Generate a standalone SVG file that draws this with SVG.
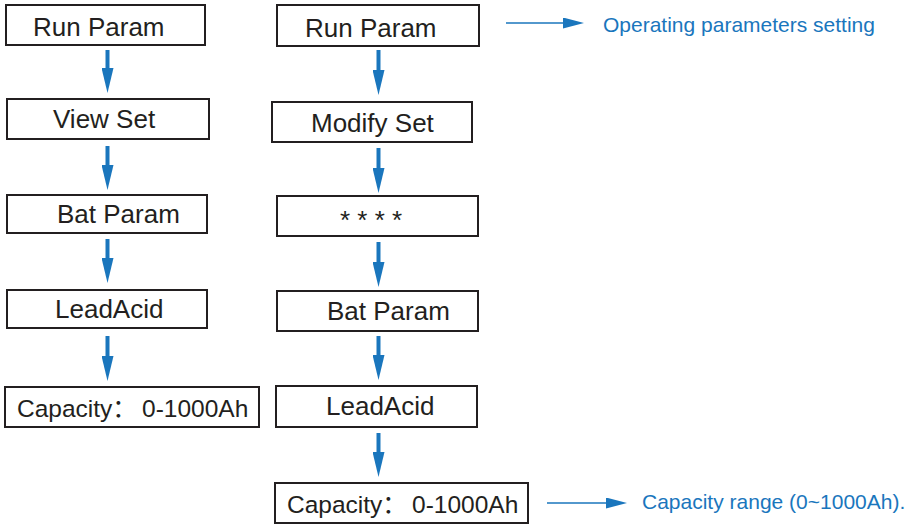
<svg xmlns="http://www.w3.org/2000/svg" width="914" height="524" viewBox="0 0 914 524">
<style>
.box{fill:#fff;stroke:#231f20;stroke-width:2}
.t{font-family:"Liberation Sans","Noto Sans CJK SC",Arial,sans-serif;font-size:26px;fill:#231f20}
.c{font-family:"Liberation Sans","Noto Sans CJK SC",Arial,sans-serif;font-size:24.5px;fill:#231f20}
.b{font-family:"Liberation Sans",Arial,sans-serif;font-size:21px;fill:#1a76bd}
.v{stroke:#1a76bd;stroke-width:4;fill:none}
.h{stroke:#1a76bd;stroke-width:1.6;fill:none}
</style>
<defs>
<marker id="vh" markerUnits="userSpaceOnUse" markerWidth="12" markerHeight="25" refX="6" refY="0" orient="0" viewBox="0 0 12 25">
<path d="M0,0 L12,0 L6,25 z" fill="#1a76bd"/>
</marker>
<marker id="hh" markerUnits="userSpaceOnUse" markerWidth="21" markerHeight="11" refX="0" refY="5.5" orient="0" viewBox="0 0 21 11">
<path d="M0,0 L21,5.5 L0,11 z" fill="#1a76bd"/>
</marker>
</defs>
<g id="connectors">
<line class="v" x1="107.5" y1="50" x2="107.5" y2="68" marker-end="url(#vh)"/>
<line class="v" x1="107.5" y1="146" x2="107.5" y2="165" marker-end="url(#vh)"/>
<line class="v" x1="107.5" y1="239" x2="107.5" y2="258" marker-end="url(#vh)"/>
<line class="v" x1="107.5" y1="336" x2="107.5" y2="356" marker-end="url(#vh)"/>
<line class="v" x1="378.5" y1="50" x2="378.5" y2="70" marker-end="url(#vh)"/>
<line class="v" x1="378.5" y1="148" x2="378.5" y2="168" marker-end="url(#vh)"/>
<line class="v" x1="378.5" y1="242" x2="378.5" y2="262" marker-end="url(#vh)"/>
<line class="v" x1="378.5" y1="336" x2="378.5" y2="355" marker-end="url(#vh)"/>
<line class="v" x1="378.5" y1="433" x2="378.5" y2="452" marker-end="url(#vh)"/>
<line class="h" x1="506" y1="23" x2="563" y2="23" marker-end="url(#hh)"/>
<line class="h" x1="547" y1="503" x2="606" y2="503" marker-end="url(#hh)"/>
</g>
<g id="l-run-param"><rect class="box" x="6" y="5" width="199" height="40"/><text class="t" x="33" y="36">Run Param</text></g>
<g id="l-view-set"><rect class="box" x="7" y="99" width="202" height="40"/><text class="t" x="53" y="128">View Set</text></g>
<g id="l-bat-param"><rect class="box" x="7" y="195" width="200" height="38"/><text class="t" x="57" y="223">Bat Param</text></g>
<g id="l-leadacid"><rect class="box" x="7" y="290" width="200" height="38"/><text class="t" x="55" y="318">LeadAcid</text></g>
<g id="l-capacity"><rect class="box" x="5" y="387" width="254" height="40"/><text class="c" x="17" y="417">Capacity：</text><text class="c" x="142" y="417">0-1000Ah</text></g>
<g id="r-run-param"><rect class="box" x="277" y="5" width="202" height="41"/><text class="t" x="305" y="37">Run Param</text></g>
<g id="r-modify-set"><rect class="box" x="272" y="102" width="200" height="40"/><text class="t" x="311" y="132">Modify Set</text></g>
<g id="r-password"><rect class="box" x="277" y="196" width="201" height="40"/><text class="t" x="340" y="229">* * * *</text></g>
<g id="r-bat-param"><rect class="box" x="277" y="291" width="201" height="40"/><text class="t" x="327" y="320">Bat Param</text></g>
<g id="r-leadacid"><rect class="box" x="276" y="386" width="201" height="41"/><text class="t" x="326" y="415">LeadAcid</text></g>
<g id="r-capacity"><rect class="box" x="275" y="483" width="253" height="40"/><text class="c" x="287" y="513">Capacity：</text><text class="c" x="412" y="513">0-1000Ah</text></g>
<g id="note-operating"><text class="b" x="603" y="32">Operating parameters setting</text></g>
<g id="note-capacity"><text class="b" x="642" y="509">Capacity range (0~1000Ah).</text></g>
</svg>
